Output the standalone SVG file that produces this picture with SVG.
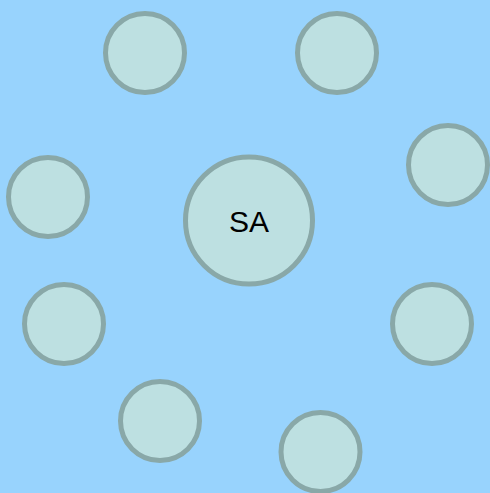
<svg xmlns="http://www.w3.org/2000/svg" width="490" height="493" viewBox="0 0 490 493">
<style>
.n{fill:#bde0e1;stroke:#89a8a8;stroke-width:5}
.t{font-family:"Liberation Sans",Arial,sans-serif;font-size:30px;fill:#000;text-anchor:middle}
</style>
<rect width="490" height="493" fill="#98d3fd"/>
<g id="connectors"/>
<g id="sa"><circle class="n" cx="249" cy="220.5" r="63.5"/><text class="t" x="249" y="232.3">SA</text></g>
<g id="n1"><circle class="n" cx="145" cy="53" r="39.5"/></g>
<g id="n2"><circle class="n" cx="337" cy="53" r="39.5"/></g>
<g id="n3"><circle class="n" cx="448" cy="165" r="39.5"/></g>
<g id="n4"><circle class="n" cx="48" cy="197" r="39.5"/></g>
<g id="n5"><circle class="n" cx="64" cy="324" r="39.5"/></g>
<g id="n6"><circle class="n" cx="432" cy="324" r="39.5"/></g>
<g id="n7"><circle class="n" cx="160" cy="421" r="39.5"/></g>
<g id="n8"><circle class="n" cx="320.5" cy="452" r="39.5"/></g>
</svg>
